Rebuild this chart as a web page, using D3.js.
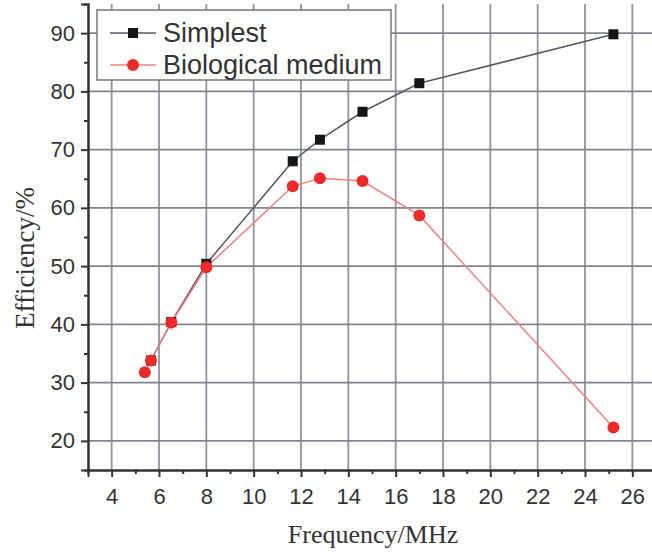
<!DOCTYPE html>
<html>
<head>
<meta charset="utf-8">
<script src="https://cdn.jsdelivr.net/npm/d3@7"></script>
<style>
  body { margin: 0; background: #fff; }
  svg { display: block; }
</style>
</head>
<body>
<svg id="chart" width="652" height="552"></svg>
<script>
// values
const simpleFreq = [5.66, 6.52, 8.0, 11.65, 12.8, 14.6, 17.0, 25.2];
const simpleEff = [33.8, 40.4, 50.4, 68.0, 71.7, 76.5, 81.4, 89.8];
const bioFreq = [5.4, 5.66, 6.52, 8.0, 11.65, 12.8, 14.6, 17.0, 25.2];
const bioEff = [31.8, 33.8, 40.3, 49.8, 63.7, 65.1, 64.6, 58.7, 22.3];
const xTicks = [4, 6, 8, 10, 12, 14, 16, 18, 20, 22, 24, 26];
const yTicks = [20, 30, 40, 50, 60, 70, 80, 90];
const seriesNames = ["Simplest", "Biological medium"];

const svg = d3.select("#chart");

const x = d3.scaleLinear().domain([3, 27]).range([88, 656]);
const y = d3.scaleLinear().domain([15, 95]).range([470, 4]);

// grid
const grid = svg.append("g");
grid.selectAll(".vg").data(xTicks).join("line")
  .attr("x1", d => x(d)).attr("x2", d => x(d))
  .attr("y1", y(95)).attr("y2", y(15))
  .attr("stroke", "#8e949e").attr("stroke-width", 1.8);
grid.selectAll(".hg").data(yTicks).join("line")
  .attr("x1", x(3)).attr("x2", 652)
  .attr("y1", d => y(d)).attr("y2", d => y(d))
  .attr("stroke", "#7f858f").attr("stroke-width", 1.8);

// axes
const xAxis = svg.append("g")
  .attr("transform", `translate(0,${y(15)})`)
  .call(d3.axisBottom(x).tickValues(xTicks).tickSize(7).tickPadding(11).tickFormat(d3.format("d")));
const xMinor = svg.append("g")
  .attr("transform", `translate(0,${y(15)})`)
  .call(d3.axisBottom(x).tickValues(d3.range(5, 27, 2)).tickSize(4).tickFormat(""));
const yAxis = svg.append("g")
  .attr("transform", `translate(${x(3)},0)`)
  .call(d3.axisLeft(y).tickValues(yTicks).tickSize(7).tickPadding(6));
const yMinor = svg.append("g")
  .attr("transform", `translate(${x(3)},0)`)
  .call(d3.axisLeft(y).tickValues(d3.range(25, 95, 10)).tickSize(4).tickFormat(""));

[xAxis, xMinor, yAxis, yMinor].forEach(g => {
  g.select(".domain").attr("stroke", "#333").attr("stroke-width", 2);
  g.selectAll(".tick line").attr("stroke", "#333").attr("stroke-width", 2);
  g.selectAll("text")
    .attr("fill", "#333")
    .style("font-family", "'Liberation Sans', Arial, sans-serif")
    .style("font-size", "22px");
});

// axis titles
svg.append("text")
  .attr("x", 373).attr("y", 543)
  .attr("text-anchor", "middle")
  .attr("fill", "#333")
  .style("font-family", "'Liberation Serif', 'Times New Roman', serif")
  .style("font-size", "26px")
  .text("Frequency/MHz");

svg.append("text")
  .attr("transform", "translate(34,258) rotate(-90)")
  .attr("text-anchor", "middle")
  .attr("fill", "#333")
  .style("font-family", "'Liberation Serif', 'Times New Roman', serif")
  .style("font-size", "27px")
  .text("Efficiency/%");

// lines
const simpleData = simpleFreq.map((f, i) => ({ f: f, e: simpleEff[i] }));
const bioData = bioFreq.map((f, i) => ({ f: f, e: bioEff[i] }));
const line = d3.line().x(d => x(d.f)).y(d => y(d.e));

svg.append("path").datum(simpleData)
  .attr("d", line).attr("fill", "none")
  .attr("stroke", "#555a63").attr("stroke-width", 1.5);
svg.append("path").datum(bioData)
  .attr("d", line).attr("fill", "none")
  .attr("stroke", "#ee8080").attr("stroke-width", 1.5);

svg.selectAll(".sq").data(simpleData).join("rect")
  .attr("x", d => x(d.f) - 5).attr("y", d => y(d.e) - 5)
  .attr("width", 10).attr("height", 10)
  .attr("fill", "#151515");
svg.selectAll(".dot").data(bioData).join("circle")
  .attr("cx", d => x(d.f)).attr("cy", d => y(d.e))
  .attr("r", 6).attr("fill", "#ec2a2a");

// legend
const legend = svg.append("g");
legend.append("rect")
  .attr("x", 97).attr("y", 10).attr("width", 294).attr("height", 70)
  .attr("fill", "#fff").attr("stroke", "#777").attr("stroke-width", 1.5);

const lg = legend.selectAll(".item").data(seriesNames).join("g")
  .attr("transform", (d, i) => `translate(0,${33 + i * 32})`);
lg.append("line")
  .attr("x1", 110).attr("x2", 156)
  .attr("stroke", (d, i) => i === 0 ? "#555a63" : "#ee8080")
  .attr("stroke-width", 1.5);
lg.filter((d, i) => i === 0).append("rect")
  .attr("x", 128).attr("y", -5).attr("width", 10).attr("height", 10)
  .attr("fill", "#151515");
lg.filter((d, i) => i === 1).append("circle")
  .attr("cx", 133).attr("r", 6).attr("fill", "#ec2a2a");
lg.append("text")
  .attr("x", 163).attr("y", 9)
  .attr("fill", "#333")
  .style("font-family", "'Liberation Sans', Arial, sans-serif")
  .style("font-size", "27px")
  .text(d => d);
</script>
</body>
</html>
